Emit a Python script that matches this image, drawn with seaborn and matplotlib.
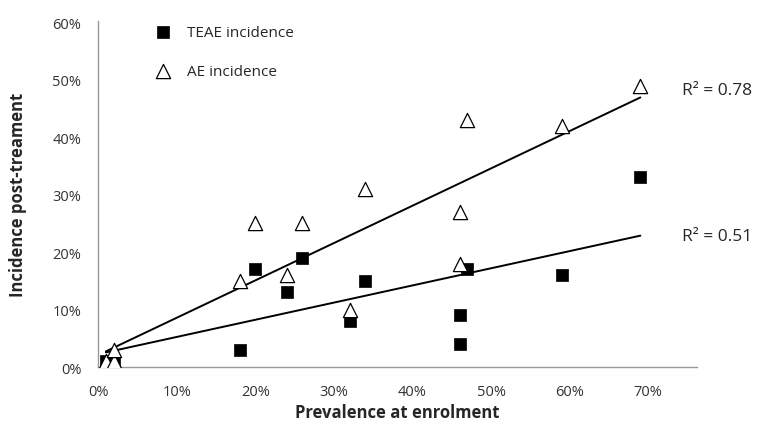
import matplotlib
matplotlib.use("Agg")
import matplotlib.pyplot as plt
import seaborn as sns
import pandas as pd
import numpy as np
from matplotlib.ticker import PercentFormatter

# Data (fractions)
teae_prev = [0.01, 0.02, 0.18, 0.20, 0.24, 0.26, 0.32, 0.34, 0.47, 0.46, 0.46, 0.59, 0.69]
teae_inc = [0.01, 0.01, 0.03, 0.17, 0.13, 0.19, 0.08, 0.15, 0.17, 0.09, 0.04, 0.16, 0.33]
ae_prev = [0.01, 0.02, 0.02, 0.18, 0.20, 0.24, 0.26, 0.32, 0.34, 0.46, 0.46, 0.47, 0.59, 0.69]
ae_inc = [0.01, 0.01, 0.03, 0.15, 0.25, 0.16, 0.25, 0.10, 0.31, 0.27, 0.18, 0.43, 0.42, 0.49]
r2_labels = ["R\u00b2 = 0.78", "R\u00b2 = 0.51"]
x_ticks = [0.0, 0.1, 0.2, 0.3, 0.4, 0.5, 0.6, 0.7]
y_ticks = [0.0, 0.1, 0.2, 0.3, 0.4, 0.5, 0.6]

teae = pd.DataFrame({"prev": teae_prev, "inc": teae_inc})
ae = pd.DataFrame({"prev": ae_prev, "inc": ae_inc})

sns.set_theme(style="white")
plt.rcParams["font.family"] = ["Open Sans", "DejaVu Sans"]

fig = plt.figure(figsize=(7.67, 4.27), dpi=100)
ax = fig.add_axes([0.1278, 0.138, 0.7809, 0.810])

sns.regplot(data=ae, x="prev", y="inc", scatter=False, ci=None, truncate=True,
            color="black", line_kws={"linewidth": 1.4}, ax=ax)
sns.regplot(data=teae, x="prev", y="inc", scatter=False, ci=None, truncate=True,
            color="black", line_kws={"linewidth": 1.4}, ax=ax)

sns.scatterplot(data=teae, x="prev", y="inc", marker="s", s=70, color="black",
                edgecolor="black", linewidth=0.5, ax=ax, label="TEAE incidence", zorder=3)
sns.scatterplot(data=ae, x="prev", y="inc", marker="^", s=105, facecolor="white",
                edgecolor="black", linewidth=0.9, ax=ax, label="AE incidence", zorder=4)

ax.set_xlim(0, 0.762)
ax.set_ylim(0, 0.602)
ax.set_xticks(x_ticks)
ax.set_yticks(y_ticks)
ax.xaxis.set_major_formatter(PercentFormatter(1.0, decimals=0))
ax.yaxis.set_major_formatter(PercentFormatter(1.0, decimals=0))
ax.tick_params(axis="both", labelsize=10.5, colors="#333333", length=0, pad=12)

for side in ["top", "right"]:
    ax.spines[side].set_visible(False)
for side in ["left", "bottom"]:
    ax.spines[side].set_color("#999999")
    ax.spines[side].set_linewidth(1.0)

ax.set_xlabel("Prevalence at enrolment", fontsize=12, fontweight="bold", labelpad=3)
ax.set_ylabel("Incidence post-treament", fontsize=12, fontweight="bold", labelpad=18)

ax.text(0.743, 0.482, r2_labels[0], fontsize=12.5, va="center", ha="left", clip_on=False)
ax.text(0.743, 0.228, r2_labels[1], fontsize=12.5, va="center", ha="left", clip_on=False)

leg = ax.legend(loc="upper left", bbox_to_anchor=(0.06, 1.03), frameon=False,
                fontsize=11, labelspacing=1.6, handletextpad=0.6, markerscale=1.0)

fig.savefig("out.png", dpi=100)
